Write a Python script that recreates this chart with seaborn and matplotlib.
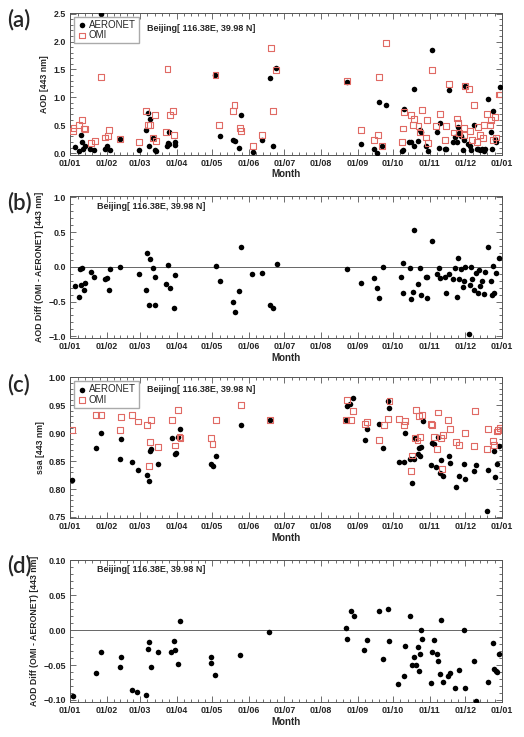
#!/usr/bin/env python3

import matplotlib
matplotlib.use("Agg")
import matplotlib.pyplot as plt
from matplotlib.ticker import FixedLocator, MultipleLocator
import seaborn as sns

# x values are day of year (0 = 01/01)
month_starts = [0, 31, 59, 90, 120, 151, 181, 212, 243, 273, 304, 334, 365]
month_labels = ["01/01", "01/02", "01/03", "01/04", "01/05", "01/06", "01/07",
                "01/08", "01/09", "01/10", "01/11", "01/12", "01/01"]

# (a) AOD 443 nm
aod_aeronet_day = [4.2, 7.6, 9.0, 10.2, 10.7, 12.1, 16.9, 20, 26.3, 29, 31, 33.3, 42.4,
                   58.2, 64.4, 65.5, 67.2, 66.3, 70, 72, 72.8, 81.9, 83.3, 83.9, 82.7,
                   88.4, 88.9, 122.8, 126.2, 137.8, 138.9, 144, 143.1, 154.4, 162,
                   168.8, 171.1, 174.2,
                   233.8, 245.9, 256.9, 259.7, 260.9, 263.7, 266.8, 280.1, 281, 281.8,
                   286.6, 287.7, 290.2, 290.8, 293.9, 295.3, 296.5, 301, 302.6, 306,
                   309.7, 311.7, 312.8, 317, 318, 319.9, 323.8, 326.7, 325.5, 327.5,
                   328.6, 330, 331.8, 332.6, 333.7, 336.3, 338, 338.8, 341.6, 343.6,
                   345, 346.4, 347.8, 349.6, 350.5, 352.9, 355.7, 356.5, 357.7, 358.8,
                   359.6, 363.1]
aod_aeronet = [0.11, 0.03, 0.33, 0.2, 0.08, 0.13, 0.07, 0.06, 2.5, 0.07, 0.12, 0.05, 0.25,
               0.06, 0.42, 0.72, 0.62, 0.13, 0.27, 0.06, 0.04, 0.12, 0.16, 0.37, 0.18,
               0.15, 0.19, 1.4, 0.3, 0.23, 0.22, 0.69, 0.09, 0.02, 0.24,
               1.34, 0.13, 1.53,
               1.27, 0.17, 0.07, 0.0, 0.92, 0.13, 0.87, 0.04, 0.05, 0.79,
               0.2, 0.2, 0.13, 1.15, 0.22, 0.42, 0.38, 0.13, 0.03, 1.85,
               0.37, 0.1, 0.54, 0.08, 0.07, 1.13, 0.2, 0.19, 0.29, 0.47,
               0.36, 0.3, 0.06, 0.24, 1.2, 0.17, 0.13, 0.05, 0.51, 0.08,
               0.07, 0.06, 0.07, 0.04, 0.08, 0.97, 0.37, 0.08, 0.76, 0.25,
               0.2, 1.19]
aod_omi_day = [2.8, 2.3, 7.1, 9.6, 11.3, 12.4, 17.5, 20.6, 26, 29.6, 31.9, 32.8, 42.4,
               58.2, 64.4, 65.5, 67.2, 70, 71.4, 72.6, 80.7, 82.2, 84.1, 86.7, 88.1,
               122.8, 125.6, 137.8, 138.9, 143.4, 144.3, 154.4, 162, 169.4, 171.4, 174.2,
               233.8, 245.9, 256.9, 260.3, 260.9, 263.7, 266.8, 280.1, 281.2, 281.8,
               288, 290.8, 289.6, 294.4, 295.5, 297.4, 300.4, 301.9, 302.6, 306,
               309.5, 312.5, 317, 318, 319.9, 324, 326.7, 328, 328.9, 332.6, 333.2,
               333.7, 336.8, 337.6, 339.9, 341.6, 343.6, 344.4, 346.7, 348.6, 349.8,
               352.3, 354.9, 356, 357.2, 358.8, 360.3, 362.8, 363.6]
aod_omi = [0.45, 0.4, 0.5, 0.6, 0.44, 0.43, 0.18, 0.22, 1.37, 0.28, 0.31, 0.42, 0.25,
           0.2, 0.75, 0.5, 0.51, 0.27, 0.69, 0.22, 0.38, 1.5, 0.68, 0.75, 0.32,
           1.4, 0.5, 0.75, 0.87, 0.45, 0.4, 0.12, 0.32, 1.88, 0.75, 1.49,
           1.29, 0.42, 0.24, 0.32, 1.37, 0.13, 1.98, 0.2, 0.44, 0.73,
           0.68, 0.61, 0.5, 0.48, 0.37, 0.78, 0.28, 0.59, 0.18, 1.49,
           0.48, 0.7, 0.23, 0.48, 1.24, 0.37, 0.62, 0.54, 0.36, 0.45, 0.33,
           1.2, 1.15, 0.4, 0.23, 0.86, 0.2, 0.47, 0.33, 0.27, 0.5,
           0.7, 0.5, 0.6, 0.24, 0.64, 0.28, 1.05, 1.05]

# (b) AOD difference (OMI - AERONET)
diff_day = [4.2, 7.4, 8.5, 9.3, 10.2, 11.3, 12.1, 17.5, 20.3, 29, 31, 32.5, 33.3, 42.4,
            58.2, 64.4, 65.2, 67.2, 66.3, 70, 72, 71.4, 81, 83, 84.4, 87.5, 88.4,
            123.1, 126.2, 138, 139.2, 143.1, 144.3, 154, 162.1, 168.5, 171.1, 174.5,
            233.8, 245.9, 256.9, 259.7, 260.9, 264, 279.5, 281.5, 281.2, 287.1,
            287.7, 290, 290.8, 293.6, 295.9, 296.7, 300.4, 301.8, 301.5, 306,
            309.7, 312, 312.8, 317, 318, 319.9, 323.8, 325.5, 326.7, 327.5, 328.6,
            330, 331.8, 332.6, 333.7, 336.8, 337.6, 338.8, 339.9, 341.6, 343.3,
            344.7, 345.8, 346.7, 348.1, 350.1, 350.9, 352.9, 355.4, 356.6, 358,
            357.7, 359.6, 362.7]
aod_diff = [-0.28, -0.43, -0.03, -0.26, -0.01, -0.34, -0.24, -0.08, -0.14, -0.18, -0.16,
            -0.33, -0.03, 0.0,
            -0.11, -0.33, 0.2, 0.11, -0.55, -0.02, -0.14, -0.55, -0.25, 0.02, -0.3, -0.59,
            -0.12,
            0.01, -0.2, -0.51, -0.65, -0.35, 0.28, -0.1, -0.09, -0.55, -0.6, 0.04,
            -0.03, -0.23, -0.16, -0.31, -0.45, 0.0, -0.15, 0.05, -0.38, -0.01,
            -0.46, -0.36, 0.53, -0.25, -0.01, -0.41, -0.15, -0.14, -0.45, 0.37,
            -0.1, -0.01, -0.16, -0.14, -0.38, -0.11, -0.18, -0.02, -0.44, 0.12, -0.18,
            -0.03, -0.29, -0.21, 0.0, -0.97, -0.26, 0.0, -0.18, -0.34, -0.09,
            -0.38, -0.04, -0.28, -0.21, -0.39, -0.07, 0.28, -0.21, -0.4, -0.38,
            0.01, -0.09, 0.13]

# (c) SSA 443 nm
ssa_aeronet_day = [1.7, 22, 26.3, 42.4, 43.2, 52.2, 57.3, 65.2, 66.3, 67.2, 68.3, 74.2,
                   86.4, 88.4, 89.5, 90.9, 93.2, 119.1, 120.3, 123.1, 144, 168.8,
                   233.3, 233.8, 236.6, 238.9, 249, 251, 260.9, 264.8, 269, 269.9,
                   277.8, 281.8, 282.9, 287.4, 288.8, 290.8, 291.6, 293.6, 294.7,
                   295.9, 296.4, 298.1, 304.6, 306, 307.7, 309.4, 310.8, 312.5, 313.7,
                   315.1, 319.9, 320.8, 325.9, 329, 332.6, 334, 341.6, 343, 352,
                   352.9, 358, 358.8, 360.8, 362.8]
ssa_aeronet = [0.817, 0.873, 0.900, 0.854, 0.890, 0.849, 0.835, 0.825, 0.814, 0.868,
               0.871, 0.845, 0.891, 0.863, 0.864, 0.894, 0.908, 0.845, 0.842, 0.859,
               0.915, 0.923,
               0.923, 0.949, 0.952, 0.963, 0.887, 0.907, 0.916, 0.874, 0.958, 0.945,
               0.849, 0.849, 0.901, 0.854, 0.810, 0.853, 0.891, 0.862, 0.873,
               0.860, 0.875, 0.921, 0.843, 0.883, 0.880, 0.839, 0.893, 0.829, 0.852,
               0.823, 0.859, 0.846, 0.803, 0.823, 0.844, 0.818, 0.833, 0.843, 0.760,
               0.834, 0.868, 0.822, 0.845, 0.877]
ssa_omi_day = [1.7, 22, 26.3, 42.4, 43.2, 52.2, 57.3, 65.2, 66.3, 67.2, 68.3, 74.2,
               86.4, 88.4, 90.9, 92.4, 93.2, 119.1, 120.3, 123.1, 144, 168.8,
               233.8, 233.3, 237.2, 238.9, 249, 251, 260.9, 265.4, 269, 269.9,
               277.8, 281.8, 282.9, 288, 288.8, 291.4, 292, 293.6, 295, 295.9,
               297.6, 305, 305.8, 307.5, 309.7, 310.8, 313.4, 314.8, 314, 319.6,
               321, 325.9, 328.6, 333.7, 341.6, 342.4, 352, 352.9, 357.4, 358.5,
               360.5, 361.9, 363]
ssa_omi = [0.905, 0.933, 0.932, 0.906, 0.929, 0.933, 0.921, 0.915, 0.841, 0.884,
           0.924, 0.875, 0.923, 0.878, 0.942, 0.894, 0.891, 0.891, 0.880, 0.923,
           0.951, 0.923,
           0.960, 0.923, 0.924, 0.940, 0.916, 0.920, 0.888, 0.915, 0.925, 0.958,
           0.925, 0.915, 0.922, 0.833, 0.860, 0.891, 0.941, 0.887, 0.930, 0.893,
           0.933, 0.917, 0.915, 0.894, 0.872, 0.937, 0.891, 0.896, 0.836, 0.924,
           0.907, 0.885, 0.879, 0.900, 0.877, 0.940, 0.872, 0.908, 0.886, 0.879,
           0.903, 0.906, 0.910]

# (d) difference (OMI - AERONET) for ssa
ssa_diff_day = [2.3, 22, 26, 41.8, 42.9, 51.9, 56.7, 64.4, 65.8, 66.9, 68, 73.9, 85.6,
                87.8, 88.7, 90.9, 93.2, 118.6, 119.4, 122.8, 143.4, 168.3,
                233.5, 234.4, 237.4, 239.5, 248.7, 251, 260.9, 264.8, 268.8, 269.9,
                277.5, 281.8, 282.9, 287.4, 288.8, 290.8, 291.9, 293.9, 294.7, 295.9,
                296.7, 297.8, 304.9, 306, 307.7, 309.7, 310.8, 312.8, 313.7, 314.8,
                319.6, 320.8, 325.6, 329, 332.6, 333.7, 341.6, 343, 352.9, 357.4,
                358.2, 359.6, 360.8, 362.7]
ssa_diff = [-0.094, -0.061, -0.032, -0.053, -0.039, -0.086, -0.088, -0.093, -0.027,
            -0.017, -0.053, -0.031, -0.032, -0.016, -0.028, -0.048, 0.013, -0.047,
            -0.038, -0.065, -0.036, -0.002,
            0.003, -0.012, 0.027, 0.021, -0.029, -0.014, 0.028, -0.041, 0.031, -0.015,
            -0.077, -0.066, -0.022, 0.021, -0.050, -0.039, -0.050, -0.024, -0.059,
            -0.034, 0.0, -0.013, -0.076, -0.032, -0.014, -0.034, -0.044, -0.063,
            0.015, -0.074, -0.066, -0.062, -0.083, -0.057, 0.0, -0.083, -0.044,
            -0.101, -0.075, -0.019, -0.056, -0.059, -0.060, -0.034]

site_text = "Beijing[ 116.38E, 39.98 N]"
diff_label = "AOD Diff (OMI - AERONET) [443 nm]"
omi_color = "#e06a64"


def style_axis(ax, ylim, ymajor, yminor, yfmt, ylabel):
    ax.set_xlim(0, 365)
    ax.set_ylim(*ylim)
    ax.xaxis.set_major_locator(FixedLocator(month_starts))
    ax.set_xticklabels(month_labels)
    minors = []
    for a, b in zip(month_starts[:-1], month_starts[1:]):
        minors += [a + (b - a) * k / 5 for k in range(1, 5)]
    ax.xaxis.set_minor_locator(FixedLocator(minors))
    ax.yaxis.set_major_locator(MultipleLocator(ymajor))
    ax.yaxis.set_minor_locator(MultipleLocator(yminor))
    ax.yaxis.set_major_formatter(yfmt)
    ax.tick_params(which="both", direction="in", top=True, right=True,
                   labelsize=6.4, width=0.6, color="#555555", pad=3)
    ax.tick_params(which="major", length=4)
    ax.tick_params(which="minor", length=2)
    for lab in ax.get_xticklabels() + ax.get_yticklabels():
        lab.set_fontweight("bold")
    for sp in ax.spines.values():
        sp.set_linewidth(0.7)
        sp.set_color("#555555")
    ax.set_xlabel("Month", fontsize=7, fontweight="bold", labelpad=1)
    ax.set_ylabel(ylabel, fontsize=6.3, fontweight="bold", labelpad=3)


def omi_scatter(ax, x, y):
    sns.scatterplot(x=x, y=y, ax=ax, marker="s", s=18, color=omi_color,
                    linewidth=0.8, label="OMI", zorder=4)
    coll = ax.collections[-1]
    coll.set_facecolor("none")
    coll.set_edgecolor(omi_color)
    coll.set_linewidth(0.8)


def add_legend(ax):
    ax.legend(loc="upper left", bbox_to_anchor=(0.005, 0.985), fontsize=7,
              frameon=True, fancybox=False, edgecolor="#aaaaaa", framealpha=1,
              handletextpad=0.2, borderpad=0.3, labelspacing=0.05,
              handlelength=1.0, borderaxespad=0.2)


def main():
    sns.set_style("ticks")
    plt.rcParams["font.family"] = ["Liberation Sans", "DejaVu Sans"]

    fig = plt.figure(figsize=(5.24, 7.37), dpi=100)
    left, width = 0.134, 0.824
    ax_a = fig.add_axes([left, 0.790, width, 0.193])
    ax_b = fig.add_axes([left, 0.541, width, 0.193])
    ax_c = fig.add_axes([left, 0.297, width, 0.191])
    ax_d = fig.add_axes([left, 0.0475, width, 0.193])

    # (a)
    sns.scatterplot(x=aod_aeronet_day, y=aod_aeronet, ax=ax_a, color="black", s=16,
                    linewidth=0, label="AERONET", zorder=3)
    omi_scatter(ax_a, aod_omi_day, aod_omi)
    style_axis(ax_a, (-0.03, 2.52), 0.5, 0.1, "{x:.1f}", "AOD [443 nm]")
    add_legend(ax_a)
    ax_a.text(0.178, 0.885, site_text, transform=ax_a.transAxes, fontsize=6.5,
              fontweight="bold", ha="left", va="center")

    # (b)
    ax_b.axhline(0, color="#666666", lw=0.7, zorder=1)
    sns.scatterplot(x=diff_day, y=aod_diff, ax=ax_b, color="black", s=16,
                    linewidth=0, zorder=3)
    style_axis(ax_b, (-1.03, 1.02), 0.5, 0.1, "{x:.1f}", diff_label)
    ax_b.text(0.063, 0.925, site_text, transform=ax_b.transAxes, fontsize=6.5,
              fontweight="bold", ha="left", va="center")

    # (c)
    sns.scatterplot(x=ssa_aeronet_day, y=ssa_aeronet, ax=ax_c, color="black", s=16,
                    linewidth=0, label="AERONET", zorder=3)
    omi_scatter(ax_c, ssa_omi_day, ssa_omi)
    style_axis(ax_c, (0.748, 1.0), 0.05, 0.01, "{x:.2f}", "ssa [443 nm]")
    add_legend(ax_c)
    ax_c.text(0.178, 0.915, site_text, transform=ax_c.transAxes, fontsize=6.5,
              fontweight="bold", ha="left", va="center")

    # (d)
    ax_d.axhline(0, color="#666666", lw=0.7, zorder=1)
    sns.scatterplot(x=ssa_diff_day, y=ssa_diff, ax=ax_d, color="black", s=16,
                    linewidth=0, zorder=3)
    style_axis(ax_d, (-0.103, 0.101), 0.05, 0.01, "{x:.2f}", diff_label)
    ax_d.text(0.063, 0.93, site_text, transform=ax_d.transAxes, fontsize=6.5,
              fontweight="bold", ha="left", va="center")

    for lab, ypix in zip(["(a)", "(b)", "(c)", "(d)"], [20, 203, 385, 566]):
        fig.text(7 / 524, 1 - ypix / 737, lab, fontsize=16, family="Lato",
                 fontweight="semibold", ha="left", va="center")

    fig.savefig("out.png", dpi=100)
    plt.close(fig)


if __name__ == "__main__":
    main()
